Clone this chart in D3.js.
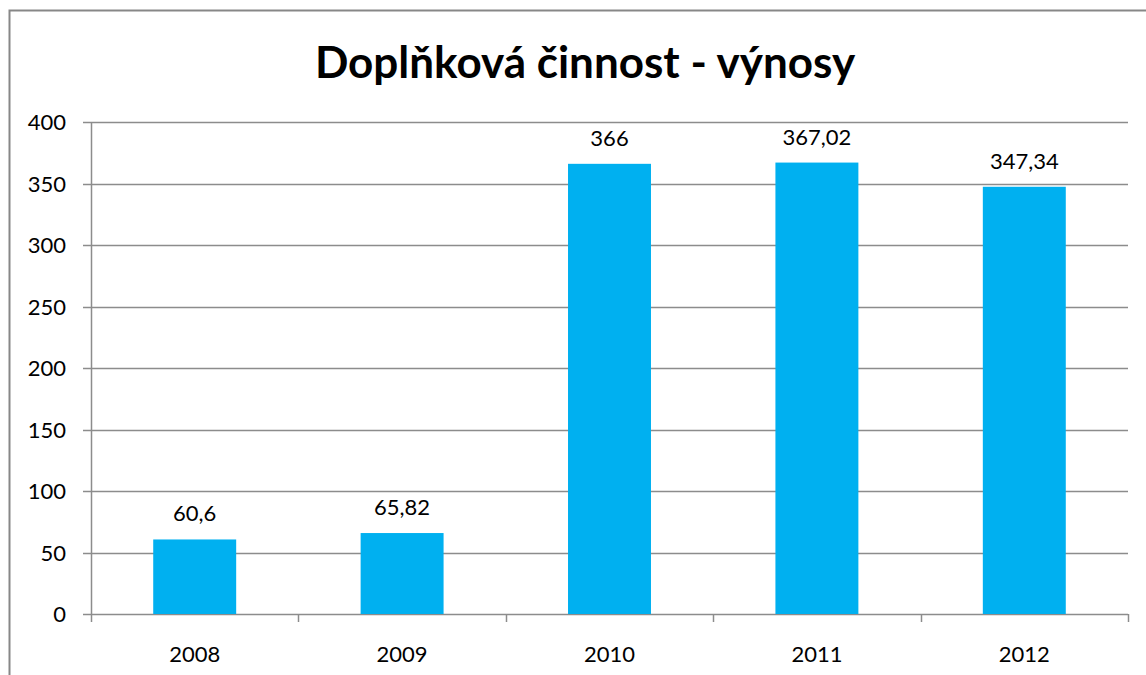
<!DOCTYPE html>
<html>
<head>
<meta charset="utf-8">
<script src="https://cdn.jsdelivr.net/npm/d3@7"></script>
<style>
  body { margin: 0; background: #fff; }
  text { font-family: Lato, "Open Sans", sans-serif; }
</style>
</head>
<body>
<div id="chart"></div>
<script>
var years = ["2008", "2009", "2010", "2011", "2012"];
var values = [60.6, 65.82, 366, 367.02, 347.34];
var labels = ["60,6", "65,82", "366", "367,02", "347,34"];
var yTicks = [0, 50, 100, 150, 200, 250, 300, 350, 400];

var width = 1146;
var height = 675;

var svg = d3.select("#chart")
  .append("svg")
  .attr("width", width)
  .attr("height", height);

// chart border (cut off on right and bottom)
svg.append("path")
  .attr("d", "M9.5," + height + " V10.5 H" + width)
  .attr("fill", "none")
  .attr("stroke", "#878787")
  .attr("stroke-width", 2);

var x = d3.scaleBand()
  .domain(years)
  .range([91, 1128])
  .paddingInner(0.6)
  .paddingOuter(0.3);

var xOuter = d3.scaleBand()
  .domain(years)
  .range([91, 1128]);

var y = d3.scaleLinear()
  .domain([0, 400])
  .range([614, 122]);

// gridlines
svg.append("g")
  .selectAll("line")
  .data(yTicks)
  .join("line")
  .attr("x1", 83)
  .attr("x2", 1128)
  .attr("y1", function(d) { return Math.round(y(d)) + 0.5; })
  .attr("y2", function(d) { return Math.round(y(d)) + 0.5; })
  .attr("stroke", "#8c8c8c")
  .attr("stroke-width", 1.5);

// y axis line
svg.append("line")
  .attr("x1", 91.5).attr("x2", 91.5)
  .attr("y1", 122).attr("y2", 614)
  .attr("stroke", "#8c8c8c")
  .attr("stroke-width", 1.5);

// y labels
svg.append("g")
  .selectAll("text")
  .data(yTicks)
  .join("text")
  .attr("x", 66)
  .attr("y", function(d) { return y(d) + 8; })
  .attr("text-anchor", "end")
  .style("font-size", "22px")
  .attr("fill", "#000")
  .text(function(d) { return d; });

// x tick marks at category boundaries
var bounds = years.map(function(d) { return xOuter(d); }).concat([1128]);
svg.append("g")
  .selectAll("line")
  .data(bounds)
  .join("line")
  .attr("x1", function(d) { return Math.round(d) + 0.5; })
  .attr("x2", function(d) { return Math.round(d) + 0.5; })
  .attr("y1", 614)
  .attr("y2", 622)
  .attr("stroke", "#8c8c8c")
  .attr("stroke-width", 1.5);

// bars
svg.append("g")
  .selectAll("rect")
  .data(values)
  .join("rect")
  .attr("x", function(d, i) { return x(years[i]); })
  .attr("width", x.bandwidth())
  .attr("y", function(d) { return y(d); })
  .attr("height", function(d) { return y(0) - y(d); })
  .attr("fill", "#00b0f0");

// value labels
svg.append("g")
  .selectAll("text")
  .data(values)
  .join("text")
  .attr("x", function(d, i) { return x(years[i]) + x.bandwidth() / 2; })
  .attr("y", function(d) { return y(d) - 18; })
  .attr("text-anchor", "middle")
  .style("font-size", "22px")
  .attr("fill", "#000")
  .text(function(d, i) { return labels[i]; });

// x labels
svg.append("g")
  .selectAll("text")
  .data(years)
  .join("text")
  .attr("x", function(d) { return xOuter(d) + xOuter.bandwidth() / 2; })
  .attr("y", 662)
  .attr("text-anchor", "middle")
  .style("font-size", "22px")
  .attr("fill", "#000")
  .text(function(d) { return d; });

// title
svg.append("text")
  .attr("x", 585)
  .attr("y", 78)
  .attr("text-anchor", "middle")
  .style("font-size", "44px")
  .style("font-weight", "bold")
  .attr("fill", "#000")
  .text("Doplňková činnost - výnosy");
</script>
</body>
</html>
